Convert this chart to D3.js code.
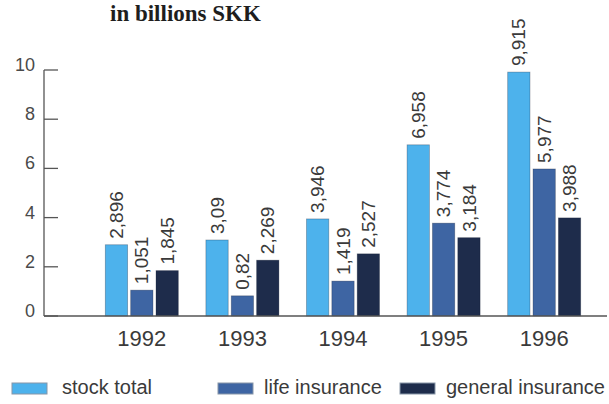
<!DOCTYPE html>
<html>
<head>
<meta charset="utf-8">
<script src="https://cdn.jsdelivr.net/npm/d3@7"></script>
<style>
  html, body { margin: 0; padding: 0; background: #ffffff; }
  svg { display: block; font-family: "Liberation Sans", Arial, Helvetica, sans-serif; }
</style>
</head>
<body>
<svg id="chart" width="609" height="404"></svg>
<script>
// Insurance sector figures, in billions SKK
const years = ["1992", "1993", "1994", "1995", "1996"];
const seriesNames = ["stock total", "life insurance", "general insurance"];
const stockTotal = [2.896, 3.09, 3.946, 6.958, 9.915];
const lifeInsurance = [1.051, 0.82, 1.419, 3.774, 5.977];
const generalInsurance = [1.845, 2.269, 2.527, 3.184, 3.988];
const yTicks = [0, 2, 4, 6, 8, 10];
const titleText = "in billions SKK";

const seriesValues = [stockTotal, lifeInsurance, generalInsurance];
const colors = ["#4db2ec", "#3e65a3", "#1e2c4b"];

const svg = d3.select("#chart");

const x = d3.scaleBand().domain(years).range([55, 631]).paddingInner(0.274).paddingOuter(0.5);
const xs = d3.scaleBand().domain(seriesNames).range([0, x.bandwidth()]).paddingInner(0.12);
const y = d3.scaleLinear().domain([0, 10]).range([316, 70]);

const axisColor = "#555";
const textColor = "#3a3a3a";

// title
svg.append("text")
  .attr("x", 110).attr("y", 21)
  .attr("font-family", "'Liberation Serif', 'Times New Roman', serif")
  .attr("font-weight", "bold")
  .attr("font-size", 23)
  .attr("fill", "#1e1e1e")
  .text(titleText);

// y axis: vertical line with inward ticks
const yAxis = svg.append("g");
yAxis.append("line")
  .attr("x1", 44).attr("x2", 44)
  .attr("y1", y(10)).attr("y2", y(0))
  .attr("stroke", axisColor).attr("stroke-width", 1.3);
yAxis.selectAll("line.tick").data(yTicks).join("line")
  .attr("class", "tick")
  .attr("x1", 44).attr("x2", 58)
  .attr("y1", d => y(d)).attr("y2", d => y(d))
  .attr("stroke", axisColor).attr("stroke-width", 1.3);
yAxis.selectAll("text").data(yTicks).join("text")
  .attr("x", 35).attr("y", d => y(d) + 1)
  .attr("text-anchor", "end")
  .attr("font-size", 18)
  .attr("fill", "#4a4a4a")
  .text(d => d);

// bars
const groups = svg.append("g").selectAll("g").data(years).join("g")
  .attr("transform", d => `translate(${x(d)},0)`);

groups.each(function(year, i) {
  const g = d3.select(this);
  const data = seriesNames.map((s, k) => ({ s, k, v: seriesValues[k][i] }));
  g.selectAll("rect").data(data).join("rect")
    .attr("x", d => xs(d.s))
    .attr("y", d => y(d.v))
    .attr("width", xs.bandwidth())
    .attr("height", d => y(0) - y(d.v))
    .attr("fill", d => colors[d.k])
    .attr("stroke", "rgba(20,30,50,0.35)")
    .attr("stroke-width", 0.8);
  g.selectAll("text").data(data).join("text")
    .attr("transform", d => `translate(${xs(d.s) + xs.bandwidth() / 2},${y(d.v) - 6}) rotate(-90)`)
    .attr("dy", "0.35em")
    .attr("text-anchor", "start")
    .attr("font-size", 19)
    .attr("fill", textColor)
    .text(d => String(d.v).replace(".", ","));
});

// baseline
svg.append("line")
  .attr("x1", 44).attr("x2", 607)
  .attr("y1", y(0)).attr("y2", y(0))
  .attr("stroke", axisColor).attr("stroke-width", 1.5);

// year labels
svg.append("g").selectAll("text").data(years).join("text")
  .attr("x", d => x(d) + x.bandwidth() / 2)
  .attr("y", 346)
  .attr("text-anchor", "middle")
  .attr("font-size", 22)
  .attr("fill", textColor)
  .text(d => d);

// legend
const legendX = [12, 218, 400];
const legend = svg.append("g").selectAll("g").data(seriesNames).join("g")
  .attr("transform", (d, i) => `translate(${legendX[i]},383)`);
legend.append("rect")
  .attr("width", 35).attr("height", 11)
  .attr("fill", (d, i) => colors[i])
  .attr("stroke", "#8796a8").attr("stroke-width", 1);
legend.append("text")
  .attr("x", (d, i) => i === 0 ? 50 : 46)
  .attr("y", 11)
  .attr("font-size", 20)
  .attr("fill", textColor)
  .text(d => d);
</script>
</body>
</html>
